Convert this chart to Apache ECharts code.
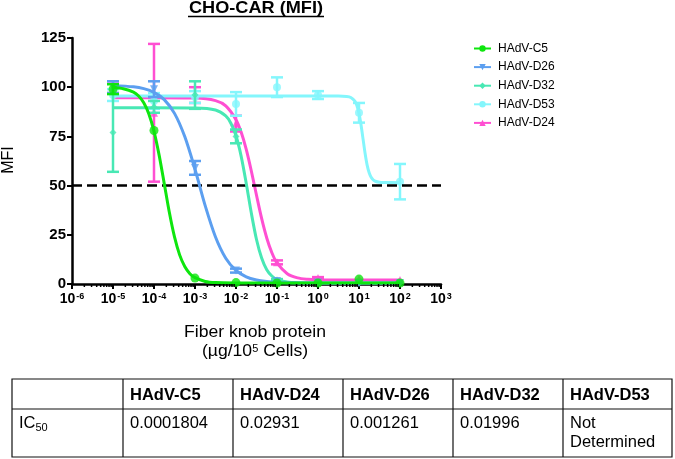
<!DOCTYPE html>
<html>
<head>
<meta charset="utf-8">
<script src="https://cdn.jsdelivr.net/npm/echarts@6/dist/echarts.min.js"></script>
<style>html,body{margin:0;padding:0;background:#fff;}#c{width:675px;height:459px;}</style>
</head>
<body>
<div id="c"></div>
<script>
// ---- data ----
const doses = [1e-5, 1e-4, 1e-3, 1e-2, 1e-1, 1, 10, 100];
const seriesNames = ['HAdV-C5', 'HAdV-D26', 'HAdV-D32', 'HAdV-D53', 'HAdV-D24'];

const c5Mean  = [99, 78, 3, 0.7, 0.5, 0.5, 2.5, 0.5];
const c5Err   = [2.5, 0, 0, 0, 0, 0, 0, 0];
const d26Mean = [100, 99, 59, 6.8, 1.5, 0.8, 0.5, 0.5];
const d26Err  = [3, 4, 3.5, 1, 0, 0, 0, 0];
const d32Mean = [77, 90, 96, 75, 2, 0.5, 0.5, 0.5];
const d32Err  = [20, 3, 7, 3.5, 0.5, 0, 0, 0];
const d53Mean = [96, 93, 95, 91.5, 100, 96, 87, 52];
const d53Err  = [3, 4, 3, 6, 5, 2, 5, 9];
const d24Mean = [100, 87, 96, 81.5, 11, 3, 2.5, 2];
const d24Err  = [3, 35, 4, 4, 1, 0.5, 0, 0];

// fitted curves (log10 dose, MFI)
const c5CurveLog  = [-5, -4.75, -4.5, -4.375, -4.25, -4.125, -4, -3.875, -3.75, -3.625, -3.5, -3.375, -3.25, -3.125, -3, -2.75, -2.5, -2, -1, 0, 1, 2];
const c5CurveY    = [99.8, 99.2, 97.5, 95.5, 92.1, 86.4, 77.6, 65.5, 51, 36.3, 23.9, 14.8, 8.9, 5.25, 3.2, 1.31, 0.74, 0.55, 0.5, 0.5, 0.5, 0.5];
const d26CurveLog = [-5, -4.5, -4.25, -4, -3.75, -3.5, -3.25, -3, -2.75, -2.5, -2.25, -2, -1.75, -1.5, -1.25, -1, -0.5, 0, 1, 2];
const d26CurveY   = [100.8, 100.2, 99.3, 97.4, 93.7, 86.7, 74.9, 58.3, 39.7, 23.9, 13.1, 6.9, 3.6, 2.0, 1.22, 0.84, 0.58, 0.5, 0.5, 0.5];
const d32CurveLog = [-5, -4, -3, -2.5, -2.25, -2.125, -2, -1.875, -1.75, -1.625, -1.5, -1.375, -1.25, -1.125, -1, -0.75, -0.5, 0, 1, 2];
const d32CurveY   = [89.5, 89.5, 89.4, 88.4, 85.4, 81.7, 75.3, 65, 51.1, 35.9, 22.6, 13.2, 7.3, 4.06, 2.3, 0.97, 0.62, 0.5, 0.5, 0.5];
const d53CurveLog = [-5, -3, -1, 0, 0.5, 0.7, 0.8, 0.9, 0.95, 1, 1.05, 1.1, 1.15, 1.2, 1.25, 1.3, 1.35, 1.4, 1.5, 1.6, 2];
const d53CurveY   = [95.5, 95.5, 95.5, 95.5, 95.5, 95.3, 94.8, 92.9, 90.6, 86.7, 80.8, 73.5, 66.2, 60.3, 56.4, 54.1, 52.85, 52.2, 51.67, 51.55, 51.5];
const d24CurveLog = [-5, -4, -3, -2.5, -2.25, -2, -1.875, -1.75, -1.625, -1.5, -1.375, -1.25, -1.125, -1, -0.75, -0.5, -0.25, 0, 1, 2];
const d24CurveY   = [94.7, 94.7, 94.5, 93.2, 90.5, 83.5, 77.2, 68.4, 57.3, 45.1, 33.3, 23.4, 15.9, 10.7, 5.2, 3.1, 2.39, 2.13, 2, 2];

const yTicks = [0, 25, 50, 75, 100, 125];
const thresholdLine = 50;

const tableHeaders = ['', 'HAdV-C5', 'HAdV-D24', 'HAdV-D26', 'HAdV-D32', 'HAdV-D53'];
const ic50Values = ['0.0001804', '0.02931', '0.001261', '0.01996', 'Not\nDetermined'];

// ---- styling ----
const FONT = '"Liberation Sans", Arial, Helvetica, sans-serif';
const colors = {
  'HAdV-C5': '#0ee60e',
  'HAdV-D26': '#5c9ff0',
  'HAdV-D32': '#48e8b4',
  'HAdV-D53': '#84f6fc',
  'HAdV-D24': '#ff4fd2'
};
const symbols = {
  'HAdV-C5':  {symbol: 'circle', size: 9, rotate: 0},
  'HAdV-D26': {symbol: 'triangle', size: 8, rotate: 180},
  'HAdV-D32': {symbol: 'diamond', size: 7, rotate: 0},
  'HAdV-D53': {symbol: 'circle', size: 8, rotate: 0},
  'HAdV-D24': {symbol: 'triangle', size: 8, rotate: 0}
};
const groups = {
  'HAdV-C5':  {mean: c5Mean,  err: c5Err,  cl: c5CurveLog,  cy: c5CurveY},
  'HAdV-D26': {mean: d26Mean, err: d26Err, cl: d26CurveLog, cy: d26CurveY},
  'HAdV-D32': {mean: d32Mean, err: d32Err, cl: d32CurveLog, cy: d32CurveY},
  'HAdV-D53': {mean: d53Mean, err: d53Err, cl: d53CurveLog, cy: d53CurveY},
  'HAdV-D24': {mean: d24Mean, err: d24Err, cl: d24CurveLog, cy: d24CurveY}
};

function errorBarRender(color) {
  return function (params, api) {
    const x = api.value(0), lo = api.value(1), hi = api.value(2);
    if (hi - lo <= 0) return null;
    const pLo = api.coord([x, lo]);
    const pHi = api.coord([x, hi]);
    const w = 6;
    const st = {stroke: color, lineWidth: 2.5};
    return {
      type: 'group',
      children: [
        {type: 'line', shape: {x1: pLo[0], y1: pLo[1], x2: pHi[0], y2: pHi[1]}, style: st},
        {type: 'line', shape: {x1: pLo[0] - w, y1: pLo[1], x2: pLo[0] + w, y2: pLo[1]}, style: st},
        {type: 'line', shape: {x1: pHi[0] - w, y1: pHi[1], x2: pHi[0] + w, y2: pHi[1]}, style: st}
      ]
    };
  };
}

const drawOrder = ['HAdV-D24', 'HAdV-D53', 'HAdV-D32', 'HAdV-D26', 'HAdV-C5'];
const series = [];
drawOrder.forEach(function (name, i) {
  const g = groups[name];
  const c = colors[name];
  const s = symbols[name];
  series.push({
    name: name, type: 'line', smooth: 0.3,
    showSymbol: false, symbol: s.symbol, symbolSize: s.size, symbolRotate: s.rotate,
    lineStyle: {color: c, width: 3}, itemStyle: {color: c},
    data: g.cl.map(function (l, k) { return [Math.pow(10, l), g.cy[k]]; }),
    z: 3 + i, silent: true, animation: false
  });
  series.push({
    name: name, type: 'custom', renderItem: errorBarRender(c),
    data: doses.map(function (d, k) { return [d, g.mean[k] - g.err[k], g.mean[k] + g.err[k]]; }),
    encode: {x: 0, y: [1, 2]}, z: 3 + i, silent: true, animation: false, clip: false
  });
  series.push({
    name: name, type: 'scatter', symbol: s.symbol, symbolSize: s.size, symbolRotate: s.rotate,
    itemStyle: {color: c},
    data: doses.map(function (d, k) { return [d, g.mean[k]]; }),
    z: 3 + i, silent: true, animation: false
  });
});

// minor ticks of the log axis (2..9 x 10^k)
const minorTicks = [];
for (let e = -6; e < 3; e++) for (let m = 2; m <= 9; m++) minorTicks.push([m * Math.pow(10, e), 0]);
series.push({
  type: 'custom', silent: true, animation: false, clip: false, z: 10,
  renderItem: function (params, api) {
    const p = api.coord([api.value(0), 0]);
    return {type: 'line', shape: {x1: p[0], y1: p[1], x2: p[0], y2: p[1] + 3}, style: {stroke: '#000', lineWidth: 1.5}};
  },
  data: minorTicks
});

// dashed threshold
series.push({
  type: 'line', data: [], silent: true, animation: false,
  markLine: {
    silent: true, symbol: 'none', label: {show: false}, animation: false,
    lineStyle: {color: '#000', width: 2.5, type: [10, 5]},
    data: [{yAxis: thresholdLine}]
  }
});

// ---- table graphic ----
const colX = [12, 123, 233, 343, 453, 563, 672];
const rowY = [379, 409, 457];
const tableEls = [];
const lineSt = {stroke: '#111', lineWidth: 1.2};
tableEls.push({type: 'rect', shape: {x: colX[0], y: rowY[0], width: colX[6] - colX[0], height: rowY[2] - rowY[0]},
  style: {fill: 'none', stroke: '#111', lineWidth: 1.2}});
tableEls.push({type: 'line', shape: {x1: colX[0], y1: rowY[1], x2: colX[6], y2: rowY[1]}, style: lineSt});
for (let k = 1; k < 6; k++) {
  tableEls.push({type: 'line', shape: {x1: colX[k], y1: rowY[0], x2: colX[k], y2: rowY[2]}, style: lineSt});
}
for (let k = 1; k < 6; k++) {
  tableEls.push({type: 'text', x: colX[k] + 7, y: 395, style: {text: tableHeaders[k], font: 'bold 16.5px ' + FONT, fill: '#000', textVerticalAlign: 'middle'}});
  tableEls.push({type: 'text', x: colX[k] + 7, y: 413.5, style: {text: ic50Values[k - 1], font: '16.5px ' + FONT, fill: '#000', textVerticalAlign: 'top', lineHeight: 19.5}});
}
tableEls.push({type: 'text', x: colX[0] + 7, y: 413.5, style: {
  text: '{a|IC}{b|50}', textVerticalAlign: 'top',
  rich: {
    a: {fontSize: 16.5, fontFamily: FONT, color: '#000', lineHeight: 19.5, verticalAlign: 'middle'},
    b: {fontSize: 11, fontFamily: FONT, color: '#000', lineHeight: 19.5, verticalAlign: 'bottom', padding: [7, 0, 0, 0]}
  }
}});

const chart = echarts.init(document.getElementById('c'), null, {renderer: 'canvas'});
chart.setOption({
  animation: false,
  backgroundColor: '#fff',
  textStyle: {fontFamily: FONT},
  grid: {left: 72, right: 234, top: 38, bottom: 175, containLabel: false},
  legend: {
    orient: 'vertical', left: 473, top: 41.5, padding: 0, itemWidth: 17, itemHeight: 8, itemGap: 4.6,
    data: seriesNames,
    textStyle: {fontSize: 12, fontFamily: FONT, color: '#000', padding: [0, 0, 0, 2], lineHeight: 14},
    selectedMode: false
  },
  xAxis: {
    type: 'log', logBase: 10, min: 1e-6, max: 1e3,
    axisLine: {onZero: false, lineStyle: {color: '#000', width: 2.5}},
    axisTick: {show: true, length: 5, lineStyle: {color: '#000', width: 2}},
    splitLine: {show: false},
    minorTick: {show: false},
    axisLabel: {
      margin: 8, color: '#000',
      formatter: function (v) {
        const e = Math.round(Math.log10(v));
        return '{b|10}{s|' + e + '}';
      },
      rich: {
        b: {fontSize: 14, fontWeight: 'bold', fontFamily: FONT, color: '#000', verticalAlign: 'bottom'},
        s: {fontSize: 9, fontWeight: 'bold', fontFamily: FONT, color: '#000', verticalAlign: 'top', padding: [0, 0, 0, 1]}
      }
    }
  },
  yAxis: {
    type: 'value', min: 0, max: 125, interval: 25,
    axisLine: {show: true, lineStyle: {color: '#000', width: 2.5}},
    axisTick: {show: true, length: 5, lineStyle: {color: '#000', width: 2}},
    splitLine: {show: false},
    axisLabel: {fontSize: 15, fontWeight: 'bold', color: '#000', margin: 6, fontFamily: FONT,
      formatter: function (v) { return yTicks.indexOf(v) >= 0 ? String(v) : ''; }}
  },
  graphic: [
    {type: 'text', x: 256, y: 8.5, scaleX: 1.1, style: {text: 'CHO-CAR (MFI)', font: 'bold 16.5px ' + FONT, fill: '#000', textAlign: 'center', textVerticalAlign: 'middle'}},
    {type: 'line', shape: {x1: 188, y1: 16.5, x2: 324, y2: 16.5}, style: {stroke: '#000', lineWidth: 1.5}},
    {type: 'text', x: 9, y: 160, rotation: Math.PI / 2, style: {text: 'MFI', font: '16px ' + FONT, fill: '#000', textAlign: 'center', textVerticalAlign: 'middle'}},
    {type: 'text', x: 255, y: 332.5, scaleX: 1.1, style: {text: 'Fiber knob protein', font: '16px ' + FONT, fill: '#000', textAlign: 'center', textVerticalAlign: 'middle'}},
    {type: 'text', x: 255, y: 352, scaleX: 1.1, style: {
      text: '{a|(µg/10}{s|5}{a| Cells)}', textAlign: 'center', textVerticalAlign: 'middle',
      rich: {a: {fontSize: 16, fontFamily: FONT, color: '#000', verticalAlign: 'bottom'}, s: {fontSize: 10, fontFamily: FONT, color: '#000', verticalAlign: 'top'}}
    }},
    {type: 'group', children: tableEls}
  ],
  series: series
});
</script>
</body>
</html>
